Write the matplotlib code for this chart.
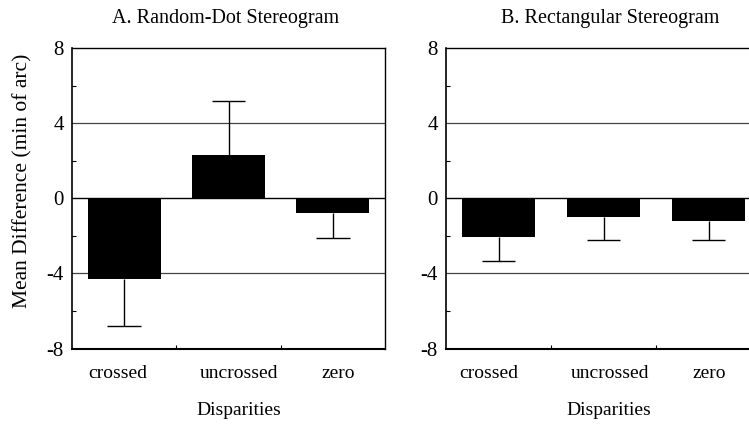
import matplotlib
matplotlib.use("Agg")
import matplotlib.pyplot as plt
from matplotlib.ticker import FixedLocator

plt.rcParams['font.family'] = ['Liberation Serif', 'DejaVu Serif']

categories = ["crossed", "uncrossed", "zero"]
rds_means = [-4.3, 2.3, -0.77]
rds_err = [2.5, 2.9, 1.35]
rect_means = [-2.08, -1.01, -1.23]
rect_err = [1.26, 1.21, 0.99]
yticks = [-8, -4, 0, 4, 8]
titles = ["A. Random-Dot Stereogram", "B. Rectangular Stereogram"]
label_pos_a = [0.94, 2.1, 3.05]
label_pos_b = [0.91, 2.06, 3.01]

W, H = 749, 424
fig = plt.figure(figsize=(W / 100, H / 100), dpi=100)

def px_axes(x0, y0, x1, y1):
    return fig.add_axes([x0 / W, 1 - y1 / H, (x1 - x0) / W, (y1 - y0) / H])

ax1 = px_axes(72, 48, 385, 348.5)
ax2 = px_axes(446, 48, 761, 348.5)

cap_half = 0.16
for ax, means, errs, lpos in [(ax1, rds_means, rds_err, label_pos_a),
                              (ax2, rect_means, rect_err, label_pos_b)]:
    x = list(range(1, len(categories) + 1))
    ax.set_xlim(0.5, 3.5)
    ax.set_ylim(-8, 8)
    for yv in [-4, 4]:
        ax.axhline(yv, color='#444444', lw=0.9, zorder=0)
    ax.axhline(0, color='black', lw=1.0, zorder=0)
    ax.bar(x, means, width=0.7, color='black', zorder=2)
    ends = [m - e if m < 0 else m + e for m, e in zip(means, errs)]
    ax.vlines(x, means, ends, color='black', lw=1.0, zorder=1)
    ax.hlines(ends, [xi - cap_half for xi in x], [xi + cap_half for xi in x],
              color='black', lw=1.0, zorder=1)
    ax.set_yticks(yticks)
    ax.set_yticklabels([str(v) for v in yticks], fontsize=15)
    ax.yaxis.set_minor_locator(FixedLocator([-6, -2, 2, 6]))
    ax.set_xticks(lpos)
    ax.set_xticklabels(categories, fontsize=14)
    ax.xaxis.set_minor_locator(FixedLocator([1.5, 2.5]))
    ax.tick_params(axis='x', which='major', length=0, pad=12)
    ax.tick_params(axis='x', which='minor', direction='in', length=3, width=0.8)
    ax.tick_params(axis='y', which='major', length=0, pad=6)
    ax.tick_params(axis='y', which='minor', direction='in', length=3, width=0.8)
    for s in ['top', 'right']:
        ax.spines[s].set_linewidth(1.0)
    ax.spines['left'].set_linewidth(1.2)
    ax.spines['bottom'].set_linewidth(1.5)
    ax.set_xlabel("Disparities", fontsize=14, labelpad=14)

ax1.xaxis.label.set_x((239 - 72) / (385 - 72))
ax2.xaxis.label.set_x((609 - 446) / (761 - 446))

fig.text(23 / W, 1 - 181 / H, "Mean Difference (min of arc)", rotation=90,
         ha='center', va='center', fontsize=15.5)
fig.text(226 / W, 1 - 18 / H, titles[0], ha='center', va='center', fontsize=14.5)
fig.text(610 / W, 1 - 18 / H, titles[1], ha='center', va='center', fontsize=14.5)

fig.savefig("out.png", dpi=100)
